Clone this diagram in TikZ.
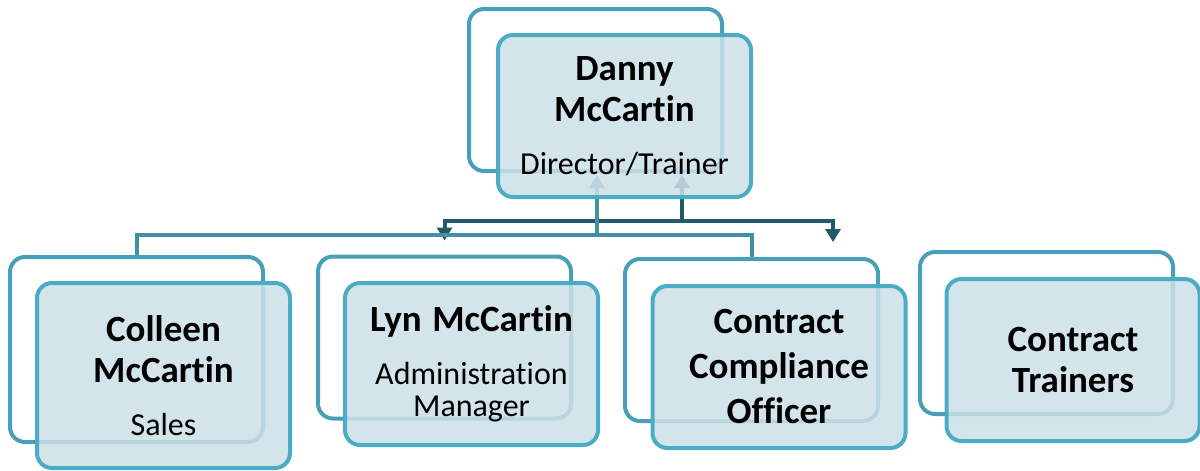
\documentclass[tikz,border=0pt]{standalone}
\usepackage{fontspec}
\setmainfont{Carlito}[Ligatures=NoCommon]
\usetikzlibrary{arrows.meta,calc,backgrounds}
\definecolor{frontline}{HTML}{4BACC6}
\definecolor{backline}{HTML}{4A9FB8}
\definecolor{boxfill}{HTML}{CDDFE8}
\definecolor{tealline}{HTML}{4290A6}
\definecolor{darkline}{HTML}{215B6A}
\newcommand\pname[2][20.5pt]{{\bfseries\fontsize{18.5pt}{#1}\selectfont #2\par}}
\newcommand\prole[1]{\vspace{10.5pt}#1}

\begin{document}
\begin{tikzpicture}[x=0.5pt, y=-0.5pt,
front/.style = {draw=frontline, line width=2pt, rounded corners=7.5pt, fill=boxfill,
  fill opacity=0.85, text opacity=1, minimum width=126.5pt, minimum height=81pt,
  inner sep=0pt, text width=122pt, align=center, font=\fontsize{16pt}{16pt}\selectfont},
back/.style = {draw=backline, line width=2pt, rounded corners=7.5pt,
  minimum width=126.5pt, minimum height=81pt},
tip/.tip = {Triangle[width=7.5pt, length=6.5pt]},
dk/.style = {draw=darkline, line width=2pt},
tl/.style = {draw=tealline, line width=2pt}]
\useasboundingbox (0,0) rectangle (1200,471);

% front boxes
\node[front] at (624.5,116) (danny) {\pname{Danny\\McCartin}\prole{Director/Trainer}};
\node[front, minimum height=92.5pt] at (163.5,375.5) (colleen) {\pname{Colleen\\McCartin}\prole{Sales}};
\node[front] at (471.5,364) (lyn) {\pname{Lyn McCartin}\prole{Administration\\Manager}};
\node[front] at (779,367) (cco) {\pname[22.5pt]{Contract\\Compliance\\Officer}};
\node[front] at (1073,360) (trainers) {\pname{Contract\\Trainers}};

\begin{scope}[on background layer]
% back boxes
\node[back] at ([shift={(-29,-26)}]danny.center) (dannyb) {};
\node[back, minimum height=92.5pt] at ([shift={(-27,-26)}]colleen.center) (colleenb) {};
\node[back] at ([shift={(-27,-26.5)}]lyn.center) (lynb) {};
\node[back] at ([shift={(-27.5,-27)}]cco.center) (ccob) {};
\node[back] at ([shift={(-26.5,-27)}]trainers.center) (trainersb) {};

\coordinate (dkj) at (682,221);
\coordinate (tlj) at (597,235);
\draw[dk, tip-] ($(danny.south -| dkj)+(0,-24)$) -- (dkj);
\draw[dk, tip-tip, shorten <=7pt, shorten >=7.5pt] (lynb.north) |- (dkj) -| ([xshift=40.75pt]ccob.north);
\draw[tl, tip-] ($(danny.south -| tlj)+(0,-24)$) -- (tlj);
\draw[tl] (colleenb.north) |- (tlj) -| (ccob.north);
\end{scope}

\end{tikzpicture}
\end{document}
